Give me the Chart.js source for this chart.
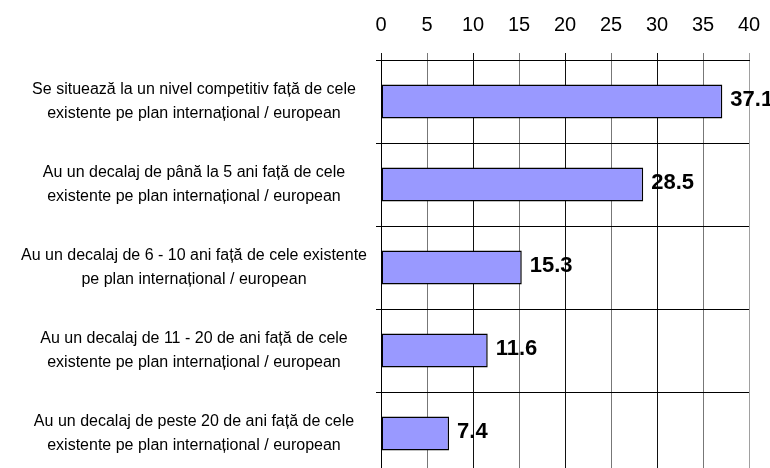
<!DOCTYPE html>
<html>
<head>
<meta charset="utf-8">
<script src="https://cdn.jsdelivr.net/npm/chart.js@4"></script>
<style>
  html, body { margin: 0; padding: 0; background: #fff; overflow: hidden; }
  canvas { display: block; }
</style>
</head>
<body>
<canvas id="chart" width="770" height="476"></canvas>
<script>
// categorii (fiecare pe două rânduri)
const categories = [
    ["Se situează la un nivel competitiv față de cele", "existente pe plan internațional / european"],
    ["Au un decalaj de până la 5 ani față de cele", "existente pe plan internațional / european"],
    ["Au un decalaj de 6 - 10 ani față de cele existente", "pe plan internațional / european"],
    ["Au un decalaj de 11 - 20 de ani față de cele", "existente pe plan internațional / european"],
    ["Au un decalaj de peste 20 de ani față de cele", "existente pe plan internațional / european"],
];

const values = [37.1, 28.5, 15.3, 11.6, 7.4];

const axisMin = 0;
const axisMax = 40;
const axisStep = 5;

const FONT = '"Liberation Sans", Arial, sans-serif';

// fără spațiu suplimentar pentru etichetele de la capete
function noPadding(s) {
    s.paddingTop = 0;
    s.paddingBottom = 0;
    s.paddingLeft = 0;
    s.paddingRight = 0;
}

// valorile scrise în dreapta barelor
const valueLabels = {
    id: 'valueLabels',
    afterDatasetsDraw(chart) {
        const ctx = chart.ctx;
        const meta = chart.getDatasetMeta(0);
        ctx.save();
        ctx.font = 'bold 22px ' + FONT;
        ctx.fillStyle = '#000';
        ctx.textBaseline = 'middle';
        ctx.textAlign = 'left';
        meta.data.forEach((bar, i) => {
            ctx.fillText(values[i].toFixed(1), bar.x + 8, bar.y - 2);
        });
        ctx.restore();
    }
};

const canvas = document.getElementById("chart");
const context = canvas.getContext("2d");

const configGraphic = {
    type: 'bar',
    data: {
        labels: categories,
        datasets: [{
            data: values,
            backgroundColor: '#9999FF',
            borderColor: '#000000',
            borderWidth: 1.5,
            borderSkipped: false,
            barPercentage: 0.41,
            categoryPercentage: 1,
        }],
    },
    options: {
        indexAxis: 'y',
        responsive: false,
        animation: false,
        layout: {
            padding: { top: 0, right: 21, bottom: 1, left: 0 }
        },
        plugins: {
            legend: { display: false },
            tooltip: { enabled: false },
        },
        scales: {
            x: {
                position: 'top',
                min: axisMin,
                max: axisMax,
                afterFit: s => { s.height = 60; noPadding(s); },
                ticks: {
                    stepSize: axisStep,
                    color: '#000',
                    padding: 16,
                    font: { size: 20, family: FONT },
                },
                grid: {
                    color: c => {
                        const v = c.tick ? c.tick.value : 0;
                        if (v === axisMax) return '#a0a0a0';
                        return v % 10 === 0 ? '#111' : '#777';
                    },
                    lineWidth: 1,
                    tickLength: 7,
                },
                border: { color: '#000', width: 1 },
            },
            y: {
                afterFit: s => { s.width = 381; noPadding(s); },
                ticks: {
                    color: '#000',
                    crossAlign: 'center',
                    padding: 9,
                    font: { size: 16, family: FONT, lineHeight: 1.5 },
                },
                grid: {
                    offset: true,
                    color: '#000',
                    lineWidth: 1,
                    tickLength: 5,
                },
                border: { color: '#000', width: 1 },
            },
        },
    },
    plugins: [valueLabels],
};

let chart = new Chart(context, configGraphic);
</script>
</body>
</html>
